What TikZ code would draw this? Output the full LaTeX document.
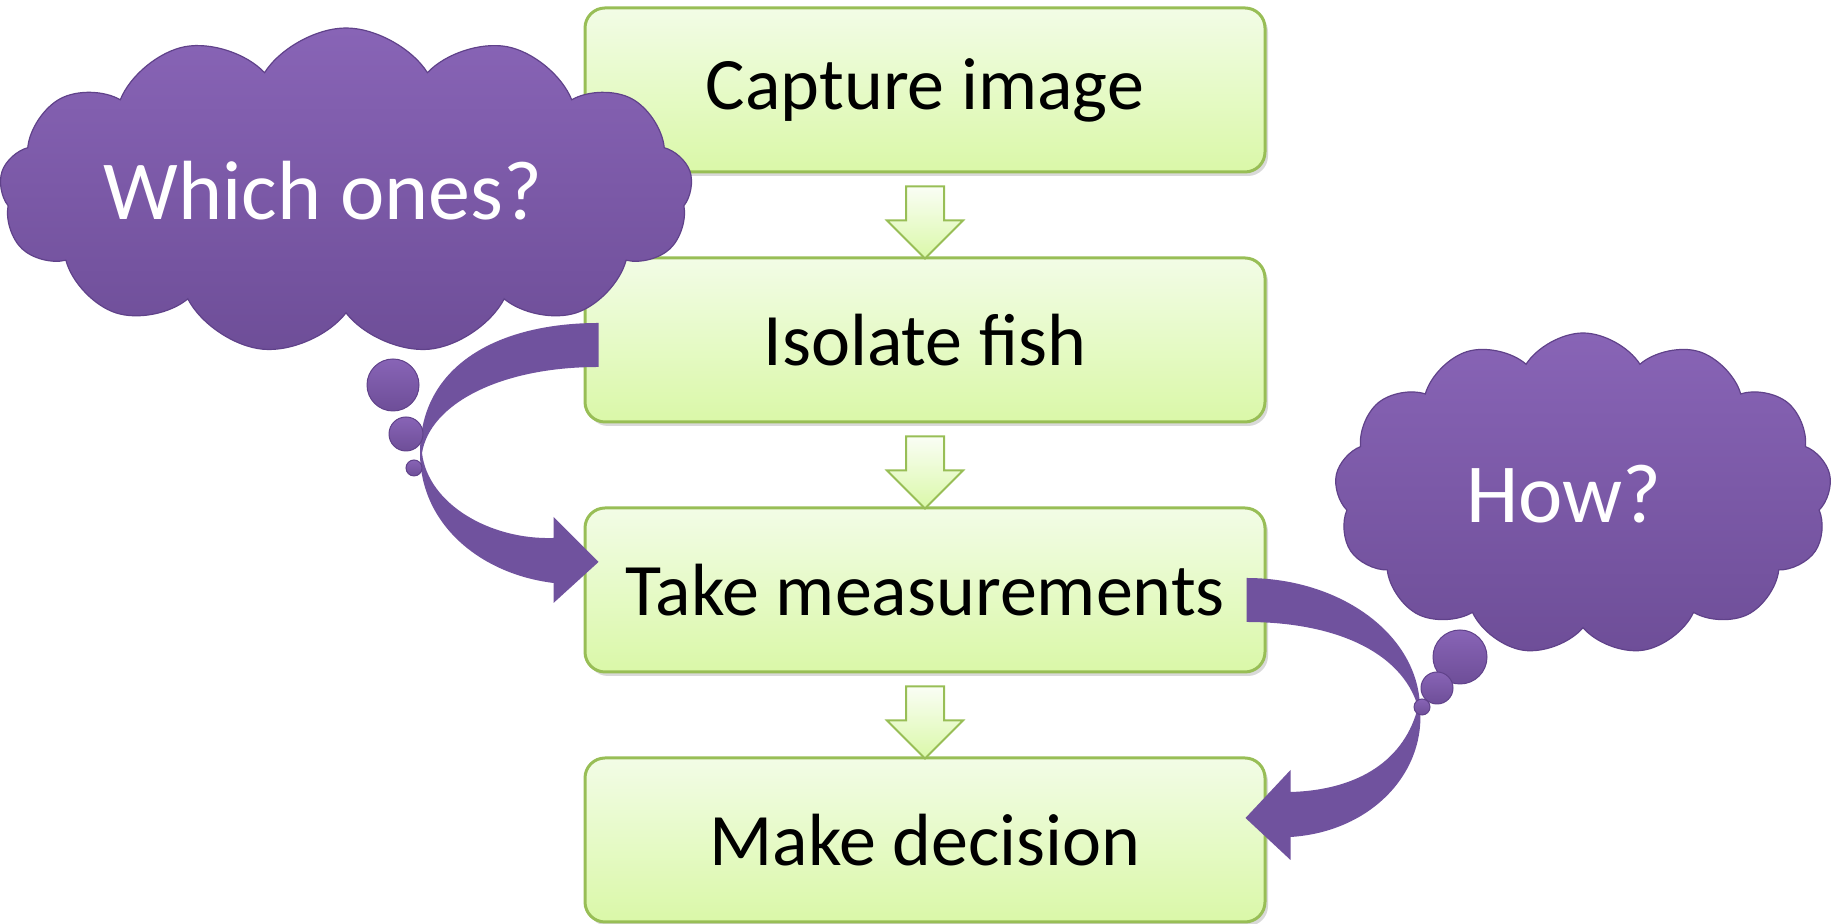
\documentclass[tikz,border=0pt]{standalone}
\usepackage{fontspec}
\setmainfont{Carlito}
\usetikzlibrary{shapes.symbols,shadows,calc}
\definecolor{boxtop}{RGB}{242,252,230}
\definecolor{boxbot}{RGB}{218,248,168}
\definecolor{boxline}{RGB}{152,190,86}
\definecolor{cloudtop}{RGB}{136,100,182}
\definecolor{cloudbot}{RGB}{110,78,152}
\definecolor{cloudline}{RGB}{96,66,138}
\definecolor{bendfill}{RGB}{112,82,158}
\tikzset{
  stepbox/.style={draw=boxline,line width=1.5pt,rounded corners=10pt,top color=boxtop,bottom color=boxbot,
    minimum width=340pt,minimum height=82pt,font=\fontsize{37}{44}\selectfont,
    drop shadow={opacity=0.3,shadow xshift=1.5pt,shadow yshift=-2pt}},
  downarrow/.style={draw=boxline,line width=1pt,top color=white!60!boxtop,bottom color=boxbot},
  thought/.style={cloud,cloud puffs=13,cloud puff arc=115,cloud ignores aspect,draw=cloudline,line width=0.6pt,
    top color=cloudtop,bottom color=cloudbot,text=white,inner sep=0pt,font=\fontsize{42}{50}\selectfont},
  bendarrow/.style={fill=bendfill},
  bubble/.style={draw=cloudline,line width=0.5pt,top color=cloudtop,bottom color=cloudbot}
}
\begin{document}
\begin{tikzpicture}[x=0.5pt,y=0.5pt]
  \useasboundingbox (0,0) rectangle (1841,924);
  % the four steps
  \foreach \idx/\ypos/\txt in {1/834/Capture image,2/584/Isolate fish,3/334/Take measurements,4/84/Make decision} {
    \node[stepbox] (b\idx) at (925,\ypos) {\txt};
  }
  \foreach \i/\j in {1/2,2/3,3/4} {
    \draw[downarrow] ($(b\i.south)+(-19,-13)$) -- ($(b\i.south)+(19,-13)$) -- ($(b\j.north)+(19,36)$)
      -- ($(b\j.north)+(38,36)$) -- ($(b\j.north)+(0,-2)$) -- ($(b\j.north)+(-38,36)$)
      -- ($(b\j.north)+(-19,36)$) -- cycle;
  }

  % the two questions
  \node[thought,minimum width=346.5pt,minimum height=163pt] (which) at (346,733) {Which ones?\hspace*{23pt}};
  \node[thought,minimum width=248.5pt,minimum height=161pt] (how) at (1583,430) {How?\hspace*{19pt}};

  \coordinate (lpinch) at (420,471);
  \coordinate (rpinch) at (1420,217);
  \fill[bendarrow] ($(b2.west)+(15,17)$) .. controls (500,601) and (420,560) .. (lpinch)
    .. controls (420,400) and (480,350) .. ($(b3.west)+(-30,7)$)
    -- ($(b3.west)+(-30,-13)$) -- ($(b3.west)+(15,28)$) -- ($(b3.west)+(-30,73)$) -- ($(b3.west)+(-30,52)$)
    .. controls (490,384) and (428,420) .. ([xshift=1pt]lpinch)
    .. controls (430,520) and (500,557) .. ($(b2.west)+(15,-27)$) -- cycle;
  \fill[bendarrow] ($(b3.east)+(-20,12)$) .. controls (1340,346) and (1418,290) .. (rpinch)
    .. controls (1426,150) and (1370,92) .. ($(b4.east)+(24,3)$)
    -- ($(b4.east)+(24,-20)$) -- ($(b4.east)+(-21,22)$) -- ($(b4.east)+(24,70)$) -- ($(b4.east)+(24,48)$)
    .. controls (1360,134) and (1405,165) .. ([xshift=-1pt]rpinch)
    .. controls (1402,272) and (1335,302) .. ($(b3.east)+(-20,-32)$) -- cycle;

  \foreach \cx/\cy/\r in {393/539/26,406/490/17,414/456/8,1460/267/27,1437/236/16,1422/217/8}
    \draw[bubble] (\cx,\cy) circle[radius=\r];
\end{tikzpicture}
\end{document}
